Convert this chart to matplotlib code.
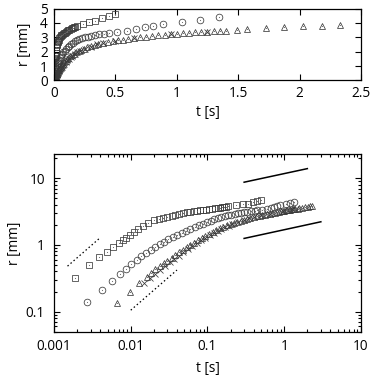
import matplotlib
matplotlib.use("Agg")
import matplotlib.pyplot as plt
from matplotlib.ticker import LogLocator, FixedLocator, NullFormatter

plt.rcParams['font.family'] = ['Open Sans', 'DejaVu Sans']
plt.rcParams['font.size'] = 9.8

# squares
sq_t = [0.0019, 0.0029, 0.0039, 0.0049, 0.0058, 0.007, 0.0079, 0.0088, 0.0097, 0.011,
        0.0125, 0.0145, 0.017, 0.020, 0.023, 0.026, 0.03, 0.034, 0.038, 0.043,
        0.048, 0.054, 0.06, 0.066, 0.073, 0.08, 0.088, 0.096, 0.105, 0.115,
        0.125, 0.135, 0.145, 0.155, 0.165, 0.175, 0.185, 0.234, 0.288, 0.337,
        0.391, 0.445, 0.494]
sq_r = [0.32, 0.50, 0.66, 0.79, 0.93, 1.08, 1.18, 1.27, 1.40, 1.55,
        1.72, 1.92, 2.12, 2.33, 2.45, 2.55, 2.65, 2.74, 2.82, 2.92,
        3.02, 3.08, 3.13, 3.18, 3.23, 3.28, 3.33, 3.38, 3.43, 3.48,
        3.53, 3.58, 3.62, 3.66, 3.70, 3.75, 3.80, 3.94, 4.05, 4.17,
        4.33, 4.50, 4.63]

# circles
ci_t = [0.0027, 0.0042, 0.0057, 0.0073, 0.0088, 0.0102, 0.0119, 0.0138, 0.016, 0.0185,
        0.021, 0.024, 0.027, 0.031, 0.035, 0.040, 0.046, 0.053, 0.060, 0.068,
        0.077, 0.087, 0.098, 0.11, 0.123, 0.137, 0.152, 0.168, 0.185, 0.205,
        0.225, 0.25, 0.275, 0.30, 0.33, 0.37, 0.41, 0.445, 0.513, 0.594,
        0.667, 0.737, 0.81, 0.886, 1.04, 1.19, 1.34]
ci_r = [0.14, 0.21, 0.29, 0.37, 0.44, 0.51, 0.59, 0.67, 0.76, 0.85,
        0.94, 1.03, 1.12, 1.22, 1.32, 1.42, 1.53, 1.64, 1.75, 1.86,
        1.97, 2.08, 2.19, 2.30, 2.41, 2.51, 2.61, 2.71, 2.78, 2.85,
        2.92, 2.99, 3.05, 3.10, 3.15, 3.21, 3.26, 3.29, 3.36, 3.45,
        3.57, 3.71, 3.82, 3.94, 4.10, 4.22, 4.40]

# triangles
tr_t = [0.0066, 0.0097, 0.0127, 0.0161, 0.0185, 0.021, 0.024, 0.027, 0.030, 0.034,
        0.038, 0.043, 0.048, 0.054, 0.060, 0.067, 0.075, 0.084, 0.094, 0.105,
        0.117, 0.13, 0.145, 0.16, 0.18, 0.2, 0.22, 0.245, 0.27, 0.3,
        0.33, 0.36, 0.4, 0.44, 0.48, 0.52, 0.56, 0.6, 0.65, 0.7,
        0.75, 0.8, 0.85, 0.9, 0.95, 1.0, 1.05, 1.1, 1.15, 1.2,
        1.25, 1.3, 1.35, 1.4, 1.49, 1.573, 1.725, 1.873, 2.03, 2.18, 2.33]
tr_r = [0.135, 0.2, 0.265, 0.33, 0.38, 0.43, 0.48, 0.53, 0.58, 0.64,
        0.70, 0.77, 0.84, 0.92, 1.0, 1.08, 1.17, 1.27, 1.37, 1.47,
        1.57, 1.67, 1.77, 1.86, 1.96, 2.05, 2.13, 2.22, 2.30, 2.38,
        2.46, 2.53, 2.60, 2.67, 2.73, 2.79, 2.84, 2.89, 2.95, 3.0,
        3.05, 3.10, 3.14, 3.18, 3.21, 3.25, 3.28, 3.31, 3.34, 3.37,
        3.40, 3.42, 3.45, 3.47, 3.50, 3.55, 3.63, 3.70, 3.76, 3.81, 3.87]

# crosses
cr_t = [0.015, 0.018, 0.021, 0.024, 0.028, 0.032, 0.037, 0.042, 0.048, 0.055,
        0.063, 0.072, 0.082, 0.094, 0.107, 0.12, 0.135, 0.15, 0.17, 0.19,
        0.21, 0.25, 0.3, 0.35, 0.4, 0.5, 0.65, 0.95, 1.25]
cr_r = [0.27, 0.32, 0.37, 0.42, 0.48, 0.55, 0.62, 0.69, 0.77, 0.86,
        0.96, 1.06, 1.17, 1.29, 1.41, 1.52, 1.63, 1.73, 1.85, 1.95,
        2.05, 2.20, 2.36, 2.50, 2.60, 2.76, 2.95, 3.21, 3.40]

# guide lines (slope 1 and slope 1/4)
g1_t = [0.0015, 0.0039]
g1_r = [0.48, 1.25]
g2_t = [0.01, 0.04]
g2_r = [0.105, 0.42]
g3_t = [0.3, 2.0]
g3_r = [8.7, 13.9]
g4_t = [0.3, 3.0]
g4_r = [1.25, 2.22]

series = [
    (sq_t, sq_r, "s", 4.6),
    (ci_t, ci_r, "o", 4.8),
    (tr_t, tr_r, "^", 4.4),
    (cr_t, cr_r, "x", 3.8),
]

fig = plt.figure(figsize=(3.73, 3.78), dpi=100)
ax1 = fig.add_axes([0.1448, 0.7873, 0.8230, 0.1900])
ax2 = fig.add_axes([0.1448, 0.1225, 0.8230, 0.4700])

for ax in (ax1, ax2):
    for t, r, m, ms in series:
        ax.plot(t, r, linestyle="none", marker=m, markersize=ms,
                markerfacecolor="none", markeredgecolor="#3a3a3a",
                markeredgewidth=0.55)
        if m != "x":
            ax.plot(t, r, linestyle="none", marker="o", markersize=0.8,
                    color="#666666", markeredgewidth=0)
    ax.tick_params(which="both", direction="in", top=True, right=True,
                   width=0.8)
    ax.tick_params(which="major", length=4.5)
    ax.tick_params(which="minor", length=2.2)
    for s in ax.spines.values():
        s.set_linewidth(0.9)

ax1.tick_params(axis="x", pad=4)
ax1.tick_params(axis="y", pad=4.5)
ax1.set_xlim(0, 2.5)
ax1.set_ylim(0, 5)
ax1.set_xticks([0, 0.5, 1, 1.5, 2, 2.5])
ax1.set_xticklabels(["0", "0.5", "1", "1.5", "2", "2.5"])
ax1.set_yticks([0, 1, 2, 3, 4, 5])
ax1.set_xlabel("t [s]", labelpad=3)
ax1.set_ylabel("r [mm]", labelpad=6)

ax2.plot(g1_t, g1_r, color="black", linestyle=(0, (1.2, 2.0)), linewidth=0.9)
ax2.plot(g2_t, g2_r, color="black", linestyle=(0, (1.2, 2.0)), linewidth=0.9)
ax2.plot(g3_t, g3_r, color="black", linewidth=1.1)
ax2.plot(g4_t, g4_r, color="black", linewidth=1.1)

ax2.set_xscale("log")
ax2.set_yscale("log")
ax2.set_xlim(0.001, 10)
ax2.set_ylim(0.05, 23)
ax2.xaxis.set_major_locator(FixedLocator([0.001, 0.01, 0.1, 1, 10]))
ax2.set_xticklabels(["0.001", "0.01", "0.1", "1", "10"])
ax2.yaxis.set_major_locator(FixedLocator([0.1, 1, 10]))
ax2.set_yticklabels(["0.1", "1", "10"])
ax2.xaxis.set_minor_locator(LogLocator(base=10, subs=range(2, 10)))
ax2.yaxis.set_minor_locator(LogLocator(base=10, subs=range(2, 10)))
ax2.xaxis.set_minor_formatter(NullFormatter())
ax2.yaxis.set_minor_formatter(NullFormatter())
ax2.tick_params(axis="x", pad=5.5)
ax2.tick_params(axis="y", pad=6.5)
ax2.set_xlabel("t [s]", labelpad=5)
ax2.set_ylabel("r [mm]", labelpad=3)

fig.savefig("out.png", dpi=100)
